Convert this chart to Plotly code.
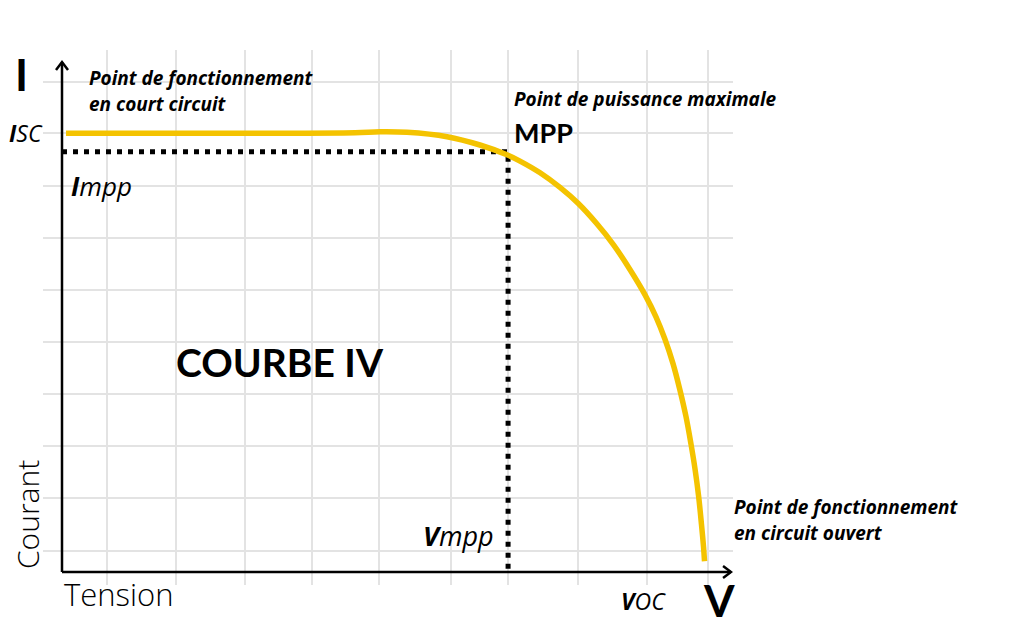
import plotly.graph_objects as go

# ---- data (volts / amperes) ----
voltage = [0.25, 6.0, 12.0, 18.23, 19.78, 21.46, 23.95, 26.00, 27.68, 28.49, 29.74,
           30.98, 32.12, 33.26, 34.30, 35.33, 36.27, 36.95, 37.51, 38.01, 38.44,
           38.82, 39.13, 39.38, 39.60, 39.78, 39.91, 39.97]
current = [8.99, 8.99, 8.99, 9.00, 9.02, 9.01, 8.92, 8.75, 8.55, 8.42, 8.18,
           7.88, 7.55, 7.14, 6.71, 6.20, 5.68, 5.23, 4.77, 4.27, 3.73,
           3.18, 2.62, 2.11, 1.56, 0.98, 0.51, 0.22]
v_mpp = 27.75
i_mpp = 8.61
grid_v = [2.80, 7.09, 11.38, 15.55, 19.71, 24.19, 27.75, 32.10, 36.39, 40.19]
grid_i = [10.04, 9.0, 7.91, 6.84, 5.78, 4.71, 3.65, 2.58, 1.52, 0.43]
v_axis_end = 41.62
i_axis_end = 10.45

# ---- pixel helpers (page pixels of the reference) ----
X0, SX = 62, 16.075
Y0, SY = 572, 48.8
PL, PR, PT, PB = 43, 733, 50, 585   # plot area in page pixels
BODY = 8                             # browser body margin
def px(x):
    return (x - X0) / SX
def py(y):
    return (Y0 - y) / SY
def paper_x(x):
    return (x - PL) / (PR - PL)
def paper_y(y):
    return (PB - y) / (PB - PT)

LATO = "Lato"
OPEN = "Open Sans"
fig = go.Figure()

# axes lines
fig.add_trace(go.Scatter(x=[0, 0], y=[0, i_axis_end], mode="lines",
                         line=dict(color="black", width=2.5), hoverinfo="skip"))
fig.add_trace(go.Scatter(x=[0, v_axis_end], y=[0, 0], mode="lines",
                         line=dict(color="black", width=2.5), hoverinfo="skip"))
# arrow heads (open chevrons)
dxh, dyh = 6 / SX, 8 / SY
fig.add_trace(go.Scatter(x=[-dxh, 0, dxh], y=[i_axis_end - dyh, i_axis_end, i_axis_end - dyh],
                         mode="lines", line=dict(color="black", width=2.5), hoverinfo="skip"))
dxv, dyv = 8 / SX, 6 / SY
fig.add_trace(go.Scatter(x=[v_axis_end - dxv, v_axis_end, v_axis_end - dxv], y=[dyv, 0, -dyv],
                         mode="lines", line=dict(color="black", width=2.5), hoverinfo="skip"))

# dotted MPP guides
fig.add_trace(go.Scatter(x=[0, v_mpp, v_mpp], y=[i_mpp, i_mpp, 0], mode="lines",
                         line=dict(color="black", width=5, dash="5px,6px"), hoverinfo="skip"))

# IV curve
fig.add_trace(go.Scatter(x=voltage, y=current, mode="lines",
                         line=dict(color="#F4C300", width=5.5, shape="spline", smoothing=1.0),
                         hoverinfo="skip"))

anns = []
def ann(x, y, text, size, family=OPEN, xanchor="left", weight=None, angle=0):
    f = dict(family=family, size=size, color="#000")
    if weight:
        f["weight"] = weight
    anns.append(dict(x=paper_x(x), y=paper_y(y), xref="paper", yref="paper", text=text,
                     showarrow=False, xanchor=xanchor, yanchor="middle", textangle=angle,
                     font=f, borderpad=0))

ann(21, 74, "<b>I</b>", 44, family=LATO, xanchor="center")
ann(88, 78, "<b><i>Point de fonctionnement</i></b>", 19)
ann(88, 104, "<b><i>en court circuit</i></b>", 19)
ann(8, 133, "<b><i>I</i></b><i>SC</i>", 23)
ann(70, 186, "<b><i>I</i></b><i>mpp</i>", 26)
ann(513, 99, "<b><i>Point de puissance maximale</i></b>", 19)
ann(513, 133, "<b>MPP</b>", 27, family=LATO)
ann(175, 362, "<b>COURBE IV</b>", 39, family=LATO)
ann(27, 515, "Courant", 30, xanchor="center", angle=-90, weight=300)
ann(63, 594, "Tension", 31, weight=300)
ann(495, 535, "<b><i>V</i></b><i>mpp</i>", 27, xanchor="right")
ann(620, 601, "<b><i>V</i></b><i>OC</i>", 23)
ann(719, 600, "<b>V</b>", 44, family=LATO, xanchor="center")
ann(733, 507, "<b><i>Point de fonctionnement</i></b>", 19)
ann(733, 533, "<b><i>en circuit ouvert</i></b>", 19)

W, H = 1018 - BODY, 639 - BODY
fig.update_layout(
    width=W, height=H,
    margin=dict(l=PL - BODY, r=W - (PR - BODY), t=PT - BODY, b=H - (PB - BODY)),
    plot_bgcolor="white", paper_bgcolor="white",
    showlegend=False,
    annotations=anns,
    xaxis=dict(range=[px(PL), px(PR)], tickvals=grid_v, showticklabels=False,
               showgrid=True, gridcolor="#e3e3e3", gridwidth=2, zeroline=False,
               showline=False, ticks="", fixedrange=True),
    yaxis=dict(range=[py(PB), py(PT)], tickvals=grid_i, showticklabels=False,
               showgrid=True, gridcolor="#e3e3e3", gridwidth=2, zeroline=False,
               showline=False, ticks="", fixedrange=True),
)
for tr in fig.data:
    tr.cliponaxis = False

fig.write_html("out.html", config={"displayModeBar": False})
